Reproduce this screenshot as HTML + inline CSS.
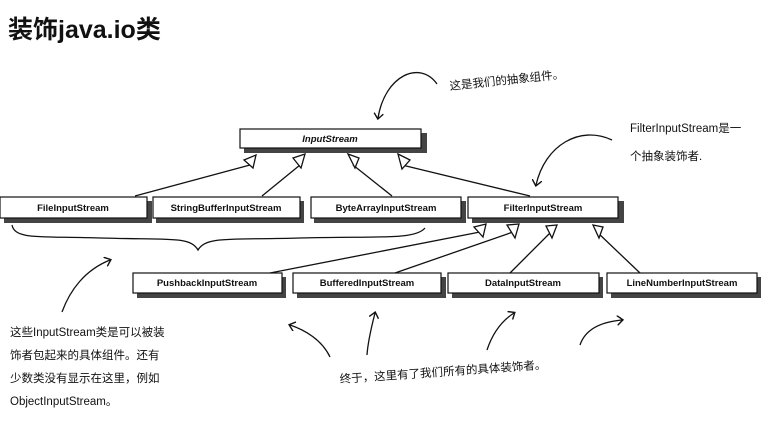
<!DOCTYPE html>
<html><head><meta charset="utf-8"><style>
html,body{margin:0;padding:0;background:#fff;width:769px;height:431px;overflow:hidden}
svg{display:block}
.b{font-family:"Liberation Sans","Noto Sans CJK SC",sans-serif;font-weight:bold;font-size:9.5px;fill:#111}
.h{font-family:"Liberation Sans","Noto Sans CJK SC",sans-serif;font-size:11.5px;fill:#111}
</style></head><body>
<svg width="769" height="431" viewBox="0 0 769 431" xmlns="http://www.w3.org/2000/svg">
<defs>
<marker id="ah" markerWidth="10" markerHeight="10" refX="5" refY="5" orient="auto" markerUnits="userSpaceOnUse">
<path d="M0,0 L6,5 L0,10" fill="none" stroke="#111" stroke-width="1.4"/></marker>
</defs>
<text x="8" y="38" style="font-family:'Liberation Sans','Noto Sans CJK SC',sans-serif;font-weight:bold;font-size:25px;fill:#111">装饰java.io类</text>

<g stroke="#111" stroke-width="1.2" fill="#fff">
<!-- shadows -->
<g fill="#444" stroke="none">
<rect x="244" y="133" width="183" height="20"/>
<rect x="4" y="201" width="148" height="22"/>
<rect x="156" y="201" width="148" height="22"/>
<rect x="314" y="201" width="152" height="22"/>
<rect x="472" y="201" width="152" height="22"/>
<rect x="137" y="277" width="149" height="21"/>
<rect x="297" y="277" width="149" height="21"/>
<rect x="452" y="277" width="151" height="21"/>
<rect x="611" y="277" width="150" height="21"/>
</g>
<rect x="240" y="129" width="181" height="19"/>
<rect x="0" y="197" width="147" height="21"/>
<rect x="153" y="197" width="147" height="21"/>
<rect x="311" y="197" width="150" height="21"/>
<rect x="468" y="197" width="150" height="21"/>
<rect x="133" y="273" width="149" height="20"/>
<rect x="293" y="273" width="148" height="20"/>
<rect x="448" y="273" width="151" height="20"/>
<rect x="607" y="273" width="150" height="20"/>
</g>
<text class="b" x="330" y="142" text-anchor="middle" font-style="italic">InputStream</text>
<text class="b" x="73" y="211" text-anchor="middle">FileInputStream</text>
<text class="b" x="226" y="211" text-anchor="middle">StringBufferInputStream</text>
<text class="b" x="386" y="211" text-anchor="middle">ByteArrayInputStream</text>
<text class="b" x="543" y="211" text-anchor="middle">FilterInputStream</text>
<text class="b" x="207" y="286" text-anchor="middle">PushbackInputStream</text>
<text class="b" x="367" y="286" text-anchor="middle">BufferedInputStream</text>
<text class="b" x="523" y="286" text-anchor="middle">DataInputStream</text>
<text class="b" x="682" y="286" text-anchor="middle">LineNumberInputStream</text>

<g stroke="#111" stroke-width="1.3" fill="#fff">
<line x1="135" y1="196" x2="250" y2="165"/>
<line x1="262" y1="196" x2="300" y2="165"/>
<line x1="392" y1="196" x2="353" y2="165"/>
<line x1="530" y1="196" x2="402" y2="165"/>
<path d="M244,160 L256,155 L253,168 Z"/>
<path d="M293,158 L305,154 L301,168 Z"/>
<path d="M348,154 L359,158 L355,168 Z"/>
<path d="M398,154 L410,160 L402,169 Z"/>
<line x1="270" y1="273" x2="480" y2="232"/>
<line x1="395" y1="273" x2="513" y2="232"/>
<line x1="510" y1="273" x2="551" y2="232"/>
<line x1="640" y1="273" x2="597" y2="232"/>
<path d="M474,227 L486,224 L483,237 Z"/>
<path d="M507,225 L519,224 L515,238 Z"/>
<path d="M546,226 L557,225 L552,238 Z"/>
<path d="M593,225 L603,227 L599,238 Z"/>
</g>

<g stroke="#111" stroke-width="1.3" fill="none">
<path d="M12,225 C15,240 40,236 100,238 C170,240 190,236 198,250 C206,236 230,240 300,238 C380,236 415,240 425,228"/>
<path d="M437,84 C420,60 385,75 378,118" marker-end="url(#ah)"/>
<path d="M612,140 C580,125 545,145 536,185" marker-end="url(#ah)"/>
<path d="M62,312 C70,290 85,270 110,260" marker-end="url(#ah)"/>
<path d="M330,357 C322,340 305,330 290,325" marker-end="url(#ah)"/>
<path d="M367,355 C368,340 372,325 375,313" marker-end="url(#ah)"/>
<path d="M487,350 C492,335 500,322 514,313" marker-end="url(#ah)"/>
<path d="M580,345 C585,330 600,322 622,320" marker-end="url(#ah)"/>
</g>

<text class="h" x="450" y="90" transform="rotate(-6 450 90)">这是我们的抽象组件。</text>
<text class="h" x="630" y="132">FilterInputStream是一</text>
<text class="h" x="630" y="160">个抽象装饰者.</text>
<text class="h" x="10" y="336">这些InputStream类是可以被装</text>
<text class="h" x="10" y="359">饰者包起来的具体组件。还有</text>
<text class="h" x="10" y="382">少数类没有显示在这里，例如</text>
<text class="h" x="10" y="405">ObjectInputStream。</text>
<text class="h" x="340" y="383" transform="rotate(-4 340 383)">终于，这里有了我们所有的具体装饰者。</text>
</svg>
</body></html>
